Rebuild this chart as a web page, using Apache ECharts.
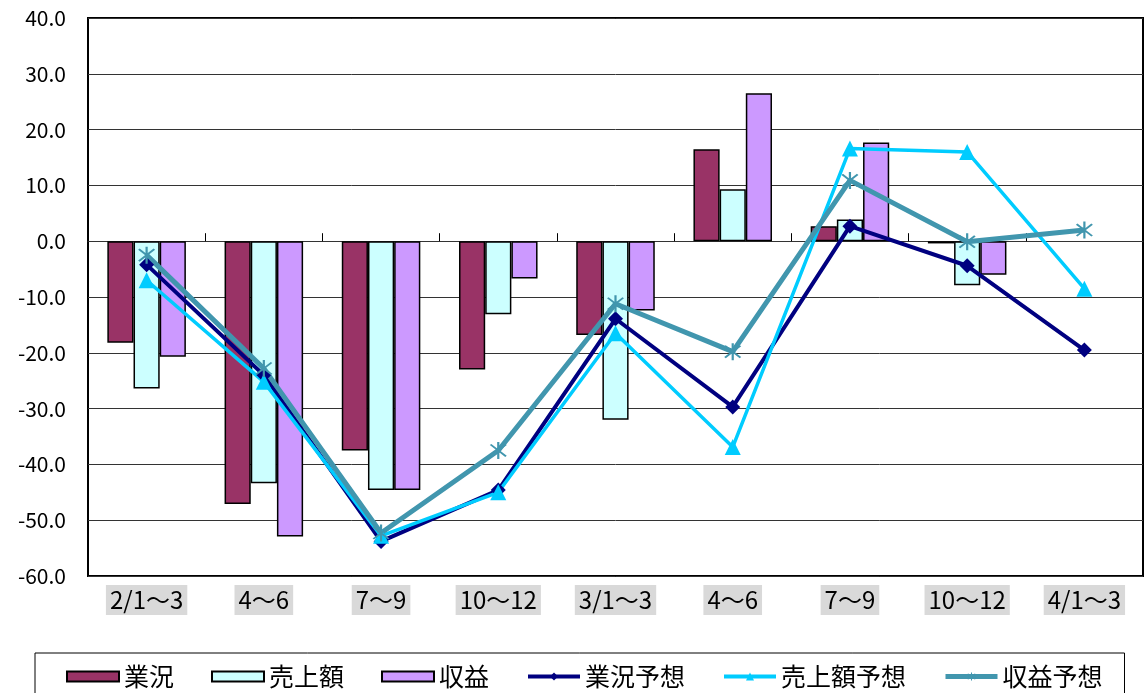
<!DOCTYPE html>
<html>
<head>
<meta charset="utf-8">
<script src="https://cdn.jsdelivr.net/npm/echarts@6/dist/echarts.min.js"></script>
<style>
  html, body { margin: 0; padding: 0; background: #fff; }
  #chart { width: 1145px; height: 693px; }
</style>
</head>
<body>
<div id="chart"></div>
<script>
  // 期間
  const categories = ['2/1～3', '4～6', '7～9', '10～12', '3/1～3', '4～6', '7～9', '10～12', '4/1～3']

  // 実績 (棒)
  const gyokyo = [-18.2, -47.1, -37.5, -23.0, -16.8, 16.5, 2.7, -0.4, null]
  const uriage = [-26.4, -43.4, -44.6, -13.1, -32.0, 9.3, 3.9, -7.9, null]
  const shueki = [-20.7, -52.9, -44.6, -6.7, -12.4, 26.5, 17.7, -6.0, null]

  // 予想 (折れ線)
  const gyokyoYoso = [-4.2, -24.0, -53.8, -44.6, -13.9, -29.7, 2.7, -4.4, -19.5]
  const uriageYoso = [-7.0, -25.2, -52.8, -45.0, -16.5, -36.9, 16.6, 16.0, -8.5]
  const shuekiYoso = [-2.5, -22.8, -52.3, -37.5, -11.2, -19.8, 10.9, -0.1, 2.0]

  const yMin = -60
  const yMax = 40
  const yStep = 10

  const font = '"Noto Sans CJK JP", "Noto Sans", sans-serif'
  const asterisk = 'path://M9 0L11 0L11 20L9 20Z M3.7 2.3L17.7 16.3L16.3 17.7L2.3 3.7Z M16.3 2.3L17.7 3.7L3.7 17.7L2.3 16.3Z'

  function barSeries(name, color, data) {
    return {
      name: name,
      type: 'bar',
      xAxisIndex: 0,
      barGap: '0%',
      barCategoryGap: '33%',
      itemStyle: {
        color: color,
        borderColor: '#000',
        borderWidth: 1.5
      },
      data: data
    }
  }

  function lineSeries(name, color, width, symbol, size, data) {
    return {
      name: name,
      type: 'line',
      xAxisIndex: 0,
      symbol: symbol,
      symbolSize: size,
      showAllSymbol: true,
      lineStyle: { color: color, width: width },
      itemStyle: { color: color },
      z: 5,
      data: data
    }
  }

  const chart = echarts.init(document.getElementById('chart'))
  chart.setOption({
    animation: false,
    textStyle: { fontFamily: font },
    grid: {
      left: 88,
      right: 2,
      top: 18,
      bottom: 117,
      show: true,
      borderColor: '#000',
      borderWidth: 2,
      backgroundColor: 'transparent'
    },
    legend: {
      left: 35,
      top: 653,
      itemWidth: 52,
      itemHeight: 10,
      itemGap: 37,
      padding: [11, 22, 14, 31],
      borderColor: '#000',
      borderWidth: 1,
      textStyle: { fontSize: 25, color: '#000', fontFamily: font },
      data: [
        { name: '業況', icon: 'rect' },
        { name: '売上額', icon: 'rect' },
        { name: '収益', icon: 'rect' },
        { name: '業況予想', lineStyle: { width: 4 } },
        { name: '売上額予想', lineStyle: { width: 4 } },
        { name: '収益予想', lineStyle: { width: 5 } }
      ]
    },
    xAxis: [
      {
        type: 'category',
        position: 'bottom',
        data: categories,
        axisLine: { show: false, onZero: false },
        axisTick: { show: false },
        axisLabel: {
          interval: 0,
          margin: 9,
          fontSize: 24,
          color: '#000',
          backgroundColor: '#d9d9d9',
          padding: [3, 4, 3, 4]
        }
      },
      {
        type: 'category',
        position: 'top',
        data: categories,
        axisLine: { show: true, onZero: true, lineStyle: { color: '#333', width: 1 } },
        axisTick: { show: true, inside: false, length: 8, lineStyle: { color: '#000', width: 1 } },
        axisLabel: { show: false }
      }
    ],
    yAxis: {
      type: 'value',
      min: yMin,
      max: yMax,
      interval: yStep,
      axisLine: { show: false },
      axisTick: { show: false },
      splitLine: { lineStyle: { color: '#333', width: 1 } },
      axisLabel: {
        margin: 22,
        fontSize: 21,
        color: '#000',
        formatter: v => v.toFixed(1)
      }
    },
    series: [
      barSeries('業況', '#993366', gyokyo),
      barSeries('売上額', '#CCFFFF', uriage),
      barSeries('収益', '#CC99FF', shueki),
      lineSeries('業況予想', '#000080', 4, 'diamond', 15, gyokyoYoso),
      lineSeries('売上額予想', '#00CCFF', 3.5, 'triangle', 16, uriageYoso),
      lineSeries('収益予想', '#4196AE', 5, asterisk, 17, shuekiYoso)
    ]
  })
</script>
</body>
</html>
